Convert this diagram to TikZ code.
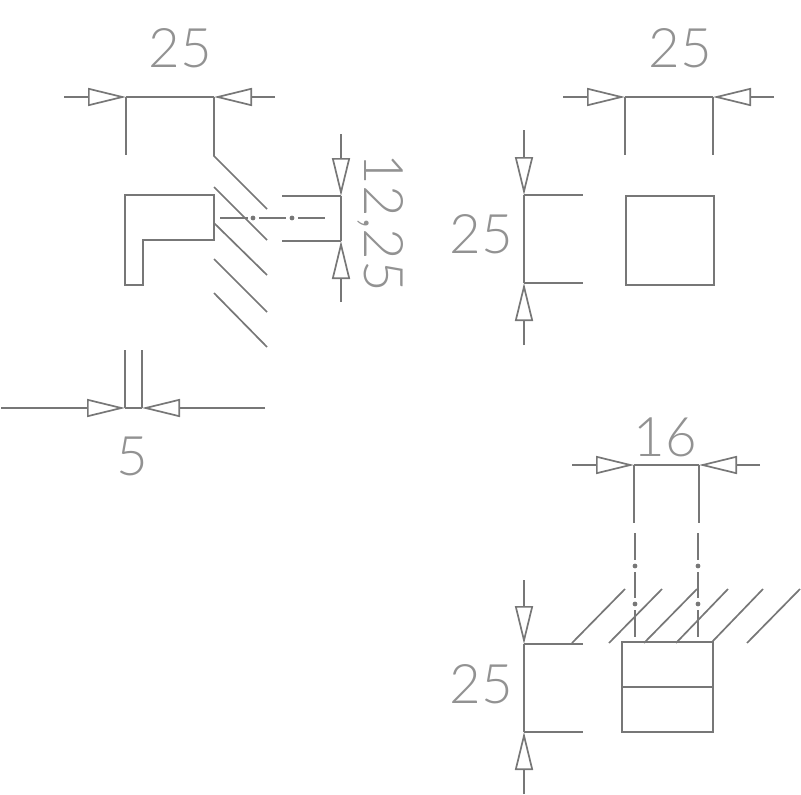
\documentclass[tikz,border=0pt]{standalone}
\usepackage{fontspec}
\setmainfont{Lato Light}
\usetikzlibrary{arrows.meta}
\tikzset{
  dimline/.style={draw=linegray,line width=1.7pt},
  dimarrow/.style={dimline,-{Triangle[open,length=38pt,width=18pt,line width=1.7pt]}},
  dimtext/.style={text=textgray,font=\fontsize{54.5}{60}\selectfont,inner sep=0pt}
}
\definecolor{linegray}{HTML}{777777}
\definecolor{textgray}{HTML}{929292}
\begin{document}
\begin{tikzpicture}[x=1pt,y=-1pt]
\useasboundingbox (0,0) rectangle (801,795);
% view from the side
\draw [dimline] (125,195) -- (214,195) -- (214,240) -- (143,240) -- (143,285) -- (125,285) -- cycle;
\draw [dimarrow] (64,97) -- (126,97);
\draw [dimarrow] (275,97) -- (214,97);
\draw [dimline] (126,97) -- (214,97);
\draw [dimline] (126,97) -- (126,155);
\draw [dimline] (214,97) -- (214,156) -- (267,209);
\node [dimtext] (widthside) at (180,48) {25};
\draw [dimline] (214,187) -- (267,240);
\draw [dimline] (214,223) -- (267,275);
\draw [dimline] (214,259) -- (267,312);
\draw [dimline] (214,293) -- (267,347);
\draw [dimline] (220,218) -- (248,218);
\draw [dimline] (259,218) -- (286,218);
\draw [dimline] (298,218) -- (325,218);
\fill [linegray] (253,218) circle (2.4);
\fill [linegray] (292,218) circle (2.4);
\draw [dimarrow] (341,134) -- (341,196);
\draw [dimarrow] (341,302) -- (341,241);
\draw [dimline] (341,196) -- (341,241);
\draw [dimline] (282,196) -- (341,196);
\draw [dimline] (282,241) -- (341,241);
\node [dimtext,rotate=-90] (depthside) at (381,223) {12,25};
\draw [dimarrow] (1,408) -- (125,408);
\draw [dimarrow] (265,408) -- (142,408);
\draw [dimline] (125,408) -- (142,408);
\draw [dimline] (125,350) -- (125,408);
\draw [dimline] (142,350) -- (142,408);
\node [dimtext] (thickside) at (132,456) {5};
% view from the front
\draw [dimline] (626,196) rectangle (714,285);
\draw [dimarrow] (563,97) -- (625,97);
\draw [dimarrow] (774,97) -- (713,97);
\draw [dimline] (625,97) -- (713,97);
\draw [dimline] (625,97) -- (625,155);
\draw [dimline] (713,97) -- (713,155);
\node [dimtext] (widthfront) at (680,48) {25};
\draw [dimarrow] (524,130) -- (524,195);
\draw [dimarrow] (524,345) -- (524,283);
\draw [dimline] (524,195) -- (524,283);
\draw [dimline] (524,195) -- (583,195);
\draw [dimline] (524,283) -- (583,283);
\node [dimtext] (heightfront) at (481,234) {25};
% view from above
\draw [dimline] (622,642) rectangle (713,732);
\draw [dimline,line width=2.4pt] (622,687) -- (713,687);
\draw [dimarrow] (572,465) -- (634,465);
\draw [dimarrow] (760,465) -- (699,465);
\draw [dimline] (634,465) -- (699,465);
\draw [dimline] (634,465) -- (634,523);
\draw [dimline] (699,465) -- (699,523);
\node [dimtext] (widthtop) at (665,437) {16};
\draw [dimline] (635,533) -- (635,560);
\draw [dimline] (635,572) -- (635,598);
\draw [dimline] (635,610) -- (635,637);
\draw [dimline] (698,533) -- (698,560);
\draw [dimline] (698,572) -- (698,598);
\draw [dimline] (698,610) -- (698,637);
\fill [linegray] (635,566) circle (2.4);
\fill [linegray] (635,604) circle (2.4);
\fill [linegray] (698,566) circle (2.4);
\fill [linegray] (698,604) circle (2.4);
\draw [dimline] (572,643) -- (625,589);
\draw [dimline] (609,643) -- (662,589);
\draw [dimline] (644,643) -- (697,589);
\draw [dimline] (676,643) -- (728,589);
\draw [dimline] (712,642) -- (763,589);
\draw [dimline] (747,643) -- (800,589);
\draw [dimarrow] (524,580) -- (524,644);
\draw [dimarrow] (524,794) -- (524,732);
\draw [dimline] (524,644) -- (524,732);
\draw [dimline] (524,644) -- (583,644);
\draw [dimline] (524,732) -- (583,732);
\node [dimtext] (heighttop) at (481,684) {25};
\end{tikzpicture}
\end{document}
